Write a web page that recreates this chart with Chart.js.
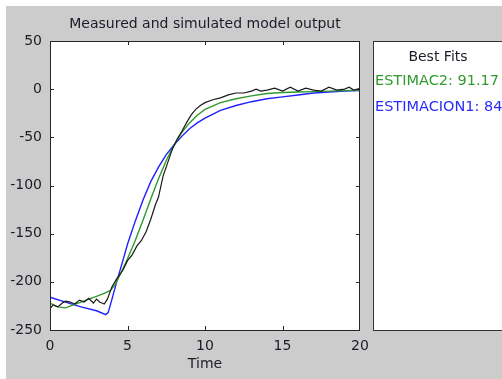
<!DOCTYPE html>
<html>
<head>
<meta charset="utf-8">
<script src="https://cdn.jsdelivr.net/npm/chart.js@4.4.1/dist/chart.umd.min.js"></script>
<style>
  html, body { margin: 0; padding: 0; background: #ffffff; overflow: hidden; }
  #fig { position: absolute; left: 6px; top: 6px; width: 496px; height: 373px; background: #cccccc; }
  #myChart { position: absolute; left: 0; top: 0; }
  #plotTitle { position: absolute; left: 50px; width: 310px; top: 15px; text-align: center;
    font: 14px "DejaVu Sans", sans-serif; color: #1c1c28; white-space: nowrap; }
  #fits { position: absolute; left: 373px; top: 41px; width: 140px; height: 288px; background: #fff;
    border: 1px solid #333; font: 14.5px "DejaVu Sans", sans-serif; white-space: nowrap; }
  #fits div { position: absolute; left: 1px; }
</style>
</head>
<body>
<div id="fig"></div>
<canvas id="myChart" width="502" height="379"></canvas>
<div id="plotTitle">Measured and simulated model output</div>
<div id="fits">
  <div style="left:0;width:128px;text-align:center;top:6px;color:#1c1c28;font-size:14px">Best Fits</div>
  <div id="fit1" style="top:30px;color:#2f9a2f"></div>
  <div id="fit2" style="top:56px;color:#2b2bff"></div>
</div>
<script>
// measured output (black)
const measuredTime = [0, 0.2, 0.5, 0.8, 1.0, 1.3, 1.6, 1.9, 2.2, 2.5, 2.8, 3.0, 3.2, 3.5, 3.7, 4.0, 4.3, 4.7, 5.0, 5.3, 5.6, 5.9, 6.2, 6.5, 6.8, 7.0, 7.3, 7.6, 7.9, 8.2, 8.5, 8.8, 9.1, 9.4, 9.7, 10.0, 10.5, 11.0, 11.5, 12.0, 12.5, 13.0, 13.3, 13.6, 14.0, 14.5, 15.0, 15.5, 16.0, 16.5, 17.0, 17.5, 18.0, 18.5, 19.0, 19.3, 19.6, 20.0];
const measuredValues = [-228, -224, -226, -222, -220, -221, -223, -219, -221, -217, -222, -218, -221, -223, -218, -205, -197, -188, -178, -172, -163, -157, -148, -135, -120, -112, -90, -76, -62, -52, -44, -35, -27, -21, -17, -14, -11, -9, -6, -4, -4, -2, 0, -2, -1, 1, -2, 2, -2, 1, -1, -2, 2, -1, 0, 2, -1, 1];

// ESTIMAC2 (green)
const estimac2Time = [0, 0.5, 1.0, 1.5, 2.0, 2.5, 3.0, 3.5, 3.9, 4.2, 4.6, 5.0, 5.5, 6.0, 6.5, 7.0, 7.5, 8.0, 8.5, 9.0, 9.5, 10, 11, 12, 13, 14, 15, 16, 17, 18, 19, 20];
const estimac2Values = [-222, -226, -227, -224, -221, -218, -215, -212, -209, -203, -190, -176, -157, -136, -114, -93, -74, -58, -45, -35, -27, -21, -14, -10, -7, -4.5, -3.5, -3, -2.5, -2, -1.5, -1];

// ESTIMACION1 (blue)
const estimacion1Time = [0, 1, 2, 3, 3.6, 3.75, 4.0, 4.3, 4.7, 5.0, 5.5, 6.0, 6.5, 7.0, 7.5, 8.0, 8.5, 9.0, 9.5, 10, 11, 12, 13, 14, 15, 16, 17, 18, 19, 20];
const estimacion1Values = [-216, -221, -226, -230, -234, -232, -218, -200, -178, -161, -137, -115, -96, -81, -68, -58, -49, -41, -35, -30, -22, -17, -13, -10, -8, -6, -4, -3, -2, -1.5];

const fitLabels = ['ESTIMAC2: 91.17', 'ESTIMACION1: 84.33'];
const xTicks = [0, 5, 10, 15, 20];
const yTicks = [-250, -200, -150, -100, -50, 0, 50];

document.getElementById('fit1').textContent = fitLabels[0];
document.getElementById('fit2').textContent = fitLabels[1];

function toPoints(xs, ys) {
  return xs.map((x, i) => ({ x: x, y: ys[i] }));
}

// white axes area, box and inward ticks like the original plot
const boxPlugin = {
  id: 'boxPlugin',
  beforeDraw(chart) {
    const { ctx, chartArea: a } = chart;
    ctx.save();
    ctx.fillStyle = '#ffffff';
    ctx.fillRect(a.left, a.top, a.right - a.left, a.bottom - a.top);
    ctx.restore();
  },
  afterDraw(chart) {
    const { ctx, chartArea: a, scales } = chart;
    ctx.save();
    ctx.strokeStyle = '#262626';
    ctx.lineWidth = 1;
    ctx.strokeRect(a.left + 0.5, a.top + 0.5, a.right - a.left - 1, a.bottom - a.top);
    ctx.beginPath();
    xTicks.slice(1, -1).forEach(v => {
      const px = Math.round(scales.x.getPixelForValue(v)) + 0.5;
      ctx.moveTo(px, a.bottom); ctx.lineTo(px, a.bottom - 4);
      ctx.moveTo(px, a.top); ctx.lineTo(px, a.top + 4);
    });
    yTicks.slice(1, -1).forEach(v => {
      const py = Math.round(scales.y.getPixelForValue(v)) + 0.5;
      ctx.moveTo(a.left, py); ctx.lineTo(a.left + 4, py);
      ctx.moveTo(a.right, py); ctx.lineTo(a.right - 4, py);
    });
    ctx.stroke();
    ctx.restore();
  }
};

const ctx = document.getElementById('myChart');
new Chart(ctx, {
  type: 'line',
  data: {
    datasets: [
      { label: 'Measured', data: toPoints(measuredTime, measuredValues), borderColor: '#1a1a1a', borderWidth: 1.2 },
      { label: fitLabels[0], data: toPoints(estimac2Time, estimac2Values), borderColor: '#2f9a2f', borderWidth: 1.4 },
      { label: fitLabels[1], data: toPoints(estimacion1Time, estimacion1Values), borderColor: '#2020ff', borderWidth: 1.4 }
    ]
  },
  options: {
    responsive: false,
    animation: false,
    events: [],
    layout: { padding: { left: 6, top: 41, right: 142, bottom: 0 } },
    elements: { point: { radius: 0 }, line: { tension: 0 } },
    plugins: { legend: { display: false }, tooltip: { enabled: false } },
    scales: {
      x: {
        type: 'linear', min: 0, max: 20,
        afterBuildTicks: s => { s.ticks = xTicks.map(v => ({ value: v })); },
        afterFit: s => { s.height = 49; },
        grid: { display: false },
        border: { display: false },
        ticks: { padding: 0, color: '#1c1c28', font: { family: 'DejaVu Sans', size: 14 }, maxRotation: 0 },
        title: { display: true, text: 'Time', color: '#1c1c28', font: { family: 'DejaVu Sans', size: 14 }, padding: { top: 0, bottom: 6 } }
      },
      y: {
        min: -250, max: 50,
        afterBuildTicks: s => { s.ticks = yTicks.map(v => ({ value: v })); },
        afterFit: s => { s.width = 44; },
        grid: { display: false },
        border: { display: false },
        ticks: { padding: 0, color: '#1c1c28', font: { family: 'DejaVu Sans', size: 14 } }
      }
    }
  },
  plugins: [boxPlugin]
});
</script>
</body>
</html>
